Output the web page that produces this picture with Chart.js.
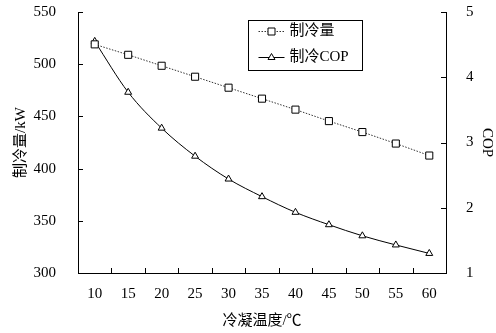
<!DOCTYPE html>
<html lang="zh">
<head>
<meta charset="UTF-8">
<title>制冷量与制冷COP</title>
<style>
    html, body { margin: 0; padding: 0; background: #fff; }
    #wrap { width: 496px; height: 333px; }
</style>
<script src="https://cdn.jsdelivr.net/npm/chart.js"></script>
</head>
<body>
<div id="wrap"><canvas id="chart" width="496" height="333"></canvas></div>
<script>
    // 冷凝温度 (℃)
    const temps = [10, 15, 20, 25, 30, 35, 40, 45, 50, 55, 60];
    // 制冷量 (kW), left axis
    const capacity = [519, 509, 498.5, 488, 477.5, 467, 456.5, 445.5, 435, 424, 412.5];
    // 制冷COP, right axis
    const cop = [4.55, 3.77, 3.22, 2.79, 2.44, 2.17, 1.93, 1.74, 1.57, 1.43, 1.30];

    const FONT = "'Liberation Serif', 'Times New Roman', 'Noto Sans CJK SC', serif";

    // small tick marks pointing into the plot area
    const innerTicks = {
        id: 'innerTicks',
        afterDraw(chart) {
            const { ctx, chartArea: a, scales } = chart;
            const len = 5;
            ctx.save();
            ctx.strokeStyle = '#000';
            ctx.lineWidth = 1;
            ctx.beginPath();
            const xs = scales.x;
            const half = (xs.getPixelForValue(1) - xs.getPixelForValue(0)) / 2;
            for (let i = 1; i < temps.length; i++) {
                const px = Math.round(xs.getPixelForValue(i) - half) + 0.5;
                ctx.moveTo(px, a.bottom);
                ctx.lineTo(px, a.bottom - len);
            }
            scales.y.ticks.forEach(t => {
                const py = Math.round(scales.y.getPixelForValue(t.value)) + 0.5;
                ctx.moveTo(a.left, py);
                ctx.lineTo(a.left + len, py);
            });
            scales.y1.ticks.forEach(t => {
                const py = Math.round(scales.y1.getPixelForValue(t.value)) + 0.5;
                ctx.moveTo(a.right, py);
                ctx.lineTo(a.right - len, py);
            });
            ctx.stroke();
            ctx.restore();
        }
    };

    // boxed legend inside the plot
    const boxLegend = {
        id: 'boxLegend',
        afterDraw(chart) {
            const ctx = chart.ctx;
            const bx = 248.5, by = 20.5, bw = 114, bh = 50;
            ctx.save();
            ctx.fillStyle = '#fff';
            ctx.fillRect(bx, by, bw, bh);
            ctx.strokeStyle = '#000';
            ctx.lineWidth = 1;
            ctx.strokeRect(bx, by, bw, bh);
            chart.data.datasets.forEach((ds, i) => {
                const cy = Math.round(by + 10 + i * 26) + 0.5;
                ctx.setLineDash(ds.borderDash || []);
                ctx.strokeStyle = ds.borderColor;
                ctx.lineWidth = ds.borderWidth;
                ctx.beginPath();
                ctx.moveTo(bx + 10, cy);
                ctx.lineTo(bx + 36, cy);
                ctx.stroke();
                ctx.setLineDash([]);
                const mx = bx + 23;
                ctx.fillStyle = '#fff';
                ctx.strokeStyle = '#000';
                ctx.lineWidth = 1;
                ctx.beginPath();
                if (ds.pointStyle === 'rect') {
                    ctx.rect(mx - 3.5, cy - 3.5, 7, 7);
                } else {
                    ctx.moveTo(mx, cy - 4);
                    ctx.lineTo(mx + 3.5, cy + 2);
                    ctx.lineTo(mx - 3.5, cy + 2);
                    ctx.closePath();
                }
                ctx.fill();
                ctx.stroke();
                ctx.fillStyle = '#000';
                ctx.font = "15px " + FONT;
                ctx.textBaseline = 'middle';
                ctx.textAlign = 'left';
                ctx.fillText(ds.label, bx + 41, cy);
            });
            ctx.restore();
        }
    };

    function noPad(s) {
        s.paddingTop = 0;
        s.paddingBottom = 0;
    }

    new Chart(document.getElementById('chart'), {
        type: 'line',
        data: {
            labels: temps,
            datasets: [
                {
                    label: '制冷量',
                    data: capacity,
                    yAxisID: 'y',
                    borderColor: '#333',
                    borderWidth: 1,
                    borderDash: [1.5, 1.5],
                    pointStyle: 'rect',
                    pointRadius: 5,
                    pointBorderWidth: 1,
                    pointBorderColor: '#000',
                    pointBackgroundColor: '#fff',
                    tension: 0
                },
                {
                    label: '制冷COP',
                    data: cop,
                    yAxisID: 'y1',
                    borderColor: '#000',
                    borderWidth: 1,
                    pointStyle: 'triangle',
                    pointRadius: 4,
                    pointBorderWidth: 1,
                    pointBorderColor: '#000',
                    pointBackgroundColor: '#fff',
                    cubicInterpolationMode: 'monotone'
                }
            ]
        },
        options: {
            responsive: false,
            animation: false,
            layout: { padding: { top: 12, left: 0, right: 0, bottom: 0 } },
            plugins: {
                legend: { display: false },
                tooltip: { enabled: false }
            },
            scales: {
                x: {
                    offset: true,
                    grid: { display: false },
                    border: { display: true, color: '#000', width: 1 },
                    ticks: { color: '#000', font: { family: FONT, size: 15 }, padding: 4, maxRotation: 0 },
                    title: { display: true, text: '冷凝温度/℃', color: '#000', font: { family: FONT, size: 15 }, padding: { top: 2, bottom: 3 } },
                    afterFit(s) { s.height = 60; s.paddingLeft = 0; s.paddingRight = 0; }
                },
                y: {
                    position: 'left',
                    min: 300, max: 550,
                    grid: { display: false },
                    border: { display: true, color: '#000', width: 1 },
                    ticks: { stepSize: 50, color: '#000', font: { family: FONT, size: 15 }, padding: 14 },
                    title: { display: true, text: '制冷量/kW', color: '#000', font: { family: FONT, size: 15 }, padding: { top: 12, bottom: 0 } },
                    afterFit(s) { s.width = 78; noPad(s); }
                },
                y1: {
                    position: 'right',
                    min: 1, max: 5,
                    grid: { display: false },
                    border: { display: true, color: '#000', width: 1 },
                    ticks: { stepSize: 1, color: '#000', font: { family: FONT, size: 15 }, padding: 12 },
                    title: { display: true, text: 'COP', color: '#000', font: { family: FONT, size: 15 }, padding: 0 },
                    afterFit(s) { s.width = 50; noPad(s); }
                }
            }
        },
        plugins: [innerTicks, boxLegend]
    });
</script>
</body>
</html>
